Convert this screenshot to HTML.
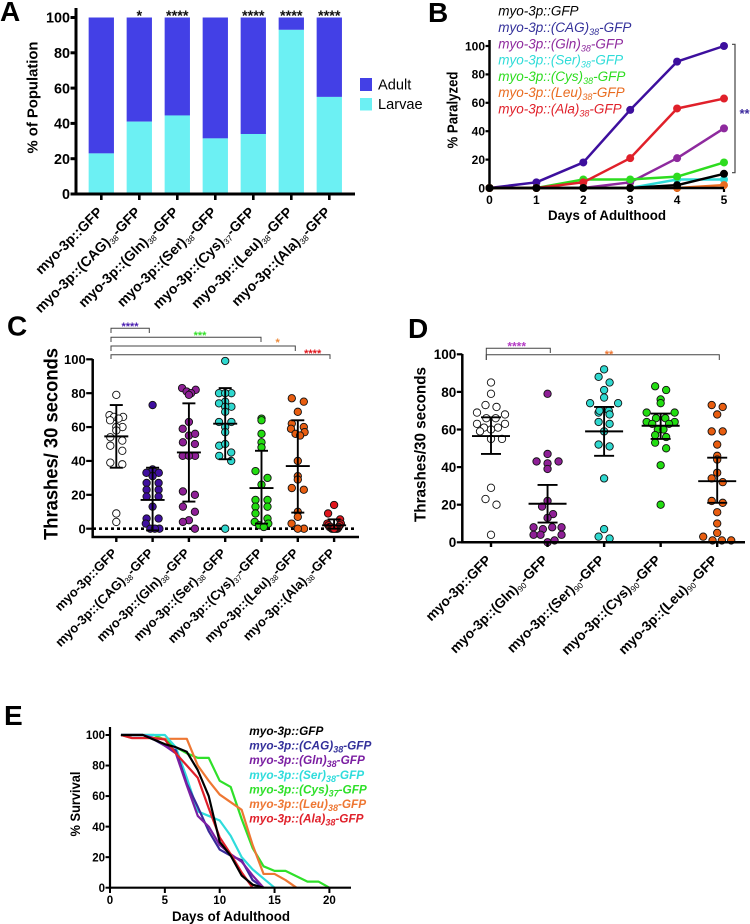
<!DOCTYPE html>
<html lang="en">
<head>
<meta charset="utf-8">
<title>Polyglutamine and polyalanine GFP phenotype panels</title>
<style>
html,body{margin:0;padding:0;background:#fff;}
svg{display:block;font-family:"Liberation Sans",Arial,sans-serif;filter:blur(0.35px);}
.letter{font-size:28px;font-weight:bold;fill:#000;}
.title{font-weight:bold;fill:#000;text-anchor:middle;}
</style>
</head>
<body>
<svg id="figure" xmlns="http://www.w3.org/2000/svg" width="750" height="924" viewBox="0 0 750 924">
  <rect x="0" y="0" width="750" height="924" fill="#fff"/>

  <g id="panel-a">
    <text class="letter" x="0" y="21">A</text>
    <text class="title" transform="translate(37.5 97.5) rotate(-90)" font-size="15" textLength="112" lengthAdjust="spacingAndGlyphs">% of Population</text>
    <rect x="360" y="78" width="12" height="13" fill="#4340e6"/>
    <text x="378" y="89.5" font-size="14.6">Adult</text>
    <rect x="360" y="98" width="12" height="12.5" fill="#6cf0f3"/>
    <text x="378" y="109" font-size="14.6">Larvae</text>
  </g>

  <g id="panel-b">
    <text class="letter" x="428" y="22">B</text>
    <text class="title" transform="translate(457.3 110) rotate(-90)" font-size="14.5" textLength="77" lengthAdjust="spacingAndGlyphs">% Paralyzed</text>
    <text class="title" x="607" y="220" font-size="14" textLength="118" lengthAdjust="spacingAndGlyphs">Days of Adulthood</text>
    <path d="M732 44.3H735V172.7H732" fill="none" stroke="#444" stroke-width="1.2"/>
    <text x="739.5" y="118" font-size="13" font-weight="bold" fill="#3d2a9e">**</text>
  </g>

  <g id="panel-c">
    <text class="letter" x="7" y="335.5">C</text>
    <text class="title" transform="translate(57.3 444) rotate(-90)" font-size="19" textLength="192" lengthAdjust="spacingAndGlyphs">Thrashes/ 30 seconds</text>
    <line x1="93" y1="528.7" x2="355" y2="528.7" stroke="#000" stroke-width="2.6" stroke-dasharray="3 3"/>
    <path d="M111 333V328.3H149.3V333" fill="none" stroke="#444" stroke-width="1"/>
    <path d="M111 342V337.3H261V342" fill="none" stroke="#444" stroke-width="1"/>
    <path d="M111 351V346H295.3V351" fill="none" stroke="#444" stroke-width="1"/>
    <path d="M111 359V354.7H330V359" fill="none" stroke="#444" stroke-width="1"/>
    <text x="130" y="330" font-size="11" font-weight="bold" fill="#4a1fb0" text-anchor="middle">****</text>
    <text x="200" y="339" font-size="11" font-weight="bold" fill="#35e02a" text-anchor="middle">***</text>
    <text x="277.7" y="346" font-size="11" font-weight="bold" fill="#ee8a3a" text-anchor="middle">*</text>
    <text x="312.7" y="357" font-size="11" font-weight="bold" fill="#e0161d" text-anchor="middle">****</text>
  </g>

  <g id="panel-d">
    <text class="letter" x="408" y="338">D</text>
    <text class="title" transform="translate(425.7 444.5) rotate(-90)" font-size="16" textLength="155" lengthAdjust="spacingAndGlyphs">Thrashes/30 seconds</text>
    <path d="M486.3 360V348.3H550.3V353" fill="none" stroke="#444" stroke-width="1"/>
    <path d="M486.3 360V354.7H719.3V360" fill="none" stroke="#444" stroke-width="1"/>
    <text x="516.7" y="350.5" font-size="12" font-weight="bold" fill="#b33bc4" text-anchor="middle">****</text>
    <text x="609" y="358" font-size="11" font-weight="bold" fill="#ee7733" text-anchor="middle">**</text>
  </g>

  <g id="panel-e">
    <text class="letter" x="4" y="725">E</text>
    <text class="title" transform="translate(80 804) rotate(-90)" font-size="13.5" textLength="65" lengthAdjust="spacingAndGlyphs">% Survival</text>
    <text class="title" x="231" y="921" font-size="13.9" textLength="118" lengthAdjust="spacingAndGlyphs">Days of Adulthood</text>
  </g>
</svg>

<script>
/* ---------- Panel A data ---------- */
const aCategories = [
  ['myo-3p::GFP'],
  ['myo-3p::(CAG)', '38', '-GFP'],
  ['myo-3p::(Gln)', '38', '-GFP'],
  ['myo-3p::(Ser)', '38', '-GFP'],
  ['myo-3p::(Cys)', '37', '-GFP'],
  ['myo-3p::(Leu)', '38', '-GFP'],
  ['myo-3p::(Ala)', '38', '-GFP']
];
const aLarvae = [23, 41, 44.5, 31.5, 34, 93, 55];
const aAdult = [77, 59, 55.5, 68.5, 66, 7, 45];
const aStars = ['', '*', '****', '', '****', '****', '****'];
const aTicks = [0, 20, 40, 60, 80, 100];

/* ---------- Panel B data ---------- */
const bDays = [0, 1, 2, 3, 4, 5];
const bTicksY = [0, 20, 40, 60, 80, 100];
const bCag = [0, 4, 18, 55, 89, 100];
const bGln = [0, 0, 0, 4, 21, 42];
const bSer = [0, 0, 0, 0, 6, 6];
const bCys = [0, 0, 6, 6, 8, 18];
const bAla = [0, 0, 4, 21, 56, 63];
const bLeu = [0, 0, 0, 0, 0, 2];
const bGfp = [0, 0, 0, 0, 2, 10];

/* ---------- Panel C data ---------- */
const cCategories = aCategories;
const cTicks = [0, 20, 40, 60, 80, 100];
const cGfp = [79, 67, 66, 66, 65, 64, 60, 60, 58, 54, 52, 49, 46, 39, 38, 9, 4];
const cCag = [73, 35, 33, 33, 31, 27, 27, 23, 23, 19, 19, 13, 6, 6, 3, 0, 0, 0];
const cGln = [83, 82, 81, 80, 79, 63, 59, 55, 56, 50, 51, 43, 43, 43, 20, 22, 13, 10, 5, 4, 0];
const cSer = [99, 80, 80, 80, 75, 74, 72, 72, 69, 63, 63, 60, 57, 49, 50, 45, 43, 40, 0];
const cCys = [65, 64, 56, 51, 48, 34, 30, 26, 17, 17, 13, 13, 9, 6, 4, 3, 2, 1];
const cLeu = [77, 75, 69, 62, 59, 60, 57, 56, 55, 40, 31, 29, 24, 23, 10, 7, 3, 0, 0];
const cAla = [14, 9, 5.5, 3, 3, 2, 2, 1, 1, 1, 0, 0, 0, 0, 0, 0];
const cMeans = [54.5, 17, 45, 62, 24, 37, 2];
const cUpper = [73, 36, 74, 83, 46, 64, 5.5];
const cLower = [36, -1, 16, 41, 3, 9.5, 0];

/* ---------- Panel D data ---------- */
const dCategories = [
  ['myo-3p::GFP'],
  ['myo-3p::(Gln)', '90', '-GFP'],
  ['myo-3p::(Ser)', '90', '-GFP'],
  ['myo-3p::(Cys)', '90', '-GFP'],
  ['myo-3p::(Leu)', '90', '-GFP']
];
const dTicks = [0, 20, 40, 60, 80, 100];
const dGfp = [85, 79, 73, 72, 69, 68, 66, 66, 63, 63, 61, 61, 60, 59, 55, 55, 29, 23, 20, 4];
const dGln = [79, 47, 43, 43, 42, 39, 22, 19, 15, 13, 8, 8, 8, 7, 4, 4, 4, 1, 0];
const dSer = [92, 88, 85, 81, 77, 74, 74, 70, 68, 69, 70, 63, 64, 59, 51, 52, 34, 7, 3, 2];
const dCys = [83, 81, 76, 74, 69, 69, 66, 66, 64, 64, 63, 63, 60, 60, 57, 56, 53, 50, 41, 20];
const dLeu = [73, 72, 68, 59, 59, 52, 46, 44, 37, 34, 32, 22, 21, 16, 10, 5, 3, 1, 1, 1];
const dMeans = [56.5, 20.5, 59, 62, 32.5];
const dUpper = [66.5, 30.5, 72, 68.5, 45];
const dLower = [47, 10.5, 46, 55, 21];

/* ---------- Panel E data ---------- */
const eTicksX = [0, 5, 10, 15, 20];
const eTicksY = [0, 20, 40, 60, 80, 100];
const eDays = [1, 2, 3, 4, 5, 6, 7, 8, 9, 10, 11, 12, 13, 14, 15, 16, 17, 18, 19, 20];
const eCys = [100, 100, 100, 100, 97, 92, 88, 85, 85, 70, 66, 45, 26, 14, 11, 11, 7.5, 4, 4, 0];
const eLeu = [100, 98, 98, 98, 97.5, 97.5, 97.5, 80, 70, 61, 56, 51, 28, 9, 9, 5, 0];
const eSer = [100, 100, 100, 100, 100, 92, 72, 50, 47, 44, 34, 20, 12, 6, 0];
const eCag = [100, 100, 100, 97, 93, 90, 68, 53, 37, 25, 21, 18, 5, 0];
const eGln = [100, 100, 100, 98, 93, 88, 67, 47, 40, 28, 22, 17, 8, 0];
const eAla = [100, 98, 98, 98, 97, 88, 80, 72, 52, 33, 22, 10, 0];
const eGfp = [100, 100, 100, 97, 94, 92, 89, 77, 60, 30, 21, 8, 2, 0];

/* ---------- Legend text ---------- */
const bLegend = [
  ['myo-3p::GFP'],
  ['myo-3p::(CAG)', '38', '-GFP'],
  ['myo-3p::(Gln)', '38', '-GFP'],
  ['myo-3p::(Ser)', '38', '-GFP'],
  ['myo-3p::(Cys)', '38', '-GFP'],
  ['myo-3p::(Leu)', '38', '-GFP'],
  ['myo-3p::(Ala)', '38', '-GFP']
];
const eLegend = [
  ['myo-3p::GFP'],
  ['myo-3p::(CAG)', '38', '-GFP'],
  ['myo-3p::(Gln)', '38', '-GFP'],
  ['myo-3p::(Ser)', '38', '-GFP'],
  ['myo-3p::(Cys)', '37', '-GFP'],
  ['myo-3p::(Leu)', '38', '-GFP'],
  ['myo-3p::(Ala)', '38', '-GFP']
];

/* ---------- Axis functions ---------- */
const yA = v => 194 - v * 1.765;
const xA = i => 101.3 + 38 * i;
const yB = v => 188 - v * 1.42;
const xB = d => 489.5 + d * 46.9;
const yC = v => 528.7 - v * 1.694;
const xC = i => 116.3 + 36.3 * i;
const yD = v => 542.3 - v * 1.88;
const xD = i => 491 + 56.55 * i;
const yE = v => 887.7 - v * 1.527;
const xE = d => 110 + 10.97 * d;

const NS = 'http://www.w3.org/2000/svg';
function mk(tag, attrs, parent) {
  const el = document.createElementNS(NS, tag);
  for (const k in attrs) el.setAttribute(k, attrs[k]);
  parent.appendChild(el);
  return el;
}
function rule(parent, name, x1, y1, x2, y2, w, color) {
  const l = mk('line', {x1: x1, y1: y1, x2: x2, y2: y2, stroke: color || '#000', 'stroke-width': w}, parent);
  
  
  return l;
}
function tickText(parent, name, str, x, y, size, anchor) {
  const t = mk('text', {x: x, y: y, 'font-size': size, 'font-weight': 'bold', 'text-anchor': anchor}, parent);
  
  
  t.textContent = str;
  return t;
}
function yTicks(parent, panel, ticks, scale, axisX, len, size, w) {
  ticks.forEach(v => {
    rule(parent, panel + '-y-tick-' + v, axisX - len, scale(v), axisX, scale(v), w);
    tickText(parent, panel + '-y-label-' + v, v, axisX - len - 0.5, scale(v) + size * 0.36, size, 'end');
  });
}
function richText(parent, name, parts, attrs, subSize, subDrop, color, subWeight) {
  const t = mk('text', attrs, parent);
  
  
  if (color) t.setAttribute('fill', color);
  const main = mk('tspan', {}, t);
  
  
  main.textContent = parts[0];
  if (parts.length > 1) {
    const sub = mk('tspan', {dy: subDrop, 'font-size': subSize}, t);
    if (subWeight) sub.setAttribute('font-weight', subWeight);
    
    
    sub.textContent = parts[1];
    const tail = mk('tspan', {dy: -subDrop}, t);
    
    
    tail.textContent = parts[2];
  }
  return t;
}
function categoryLabels(parent, panel, cats, scale, dx, y, size) {
  cats.forEach((parts, i) => {
    const x = scale(i) + dx;
    const attrs = {
      x: x, y: y, 'font-size': size, 'font-weight': 'bold', 'text-anchor': 'end',
      transform: 'rotate(-45 ' + x + ' ' + y + ')'
    };
    richText(parent, panel + '-category-label-' + i, parts, attrs, size * 0.6, 2.5, null, 'normal');
  });
}
/* Binned swarm layout: points sharing a value bin are spread symmetrically,
   with the largest values placed on the outside of the row. */
function swarm(values, binSize, pair, triple, maxHalf) {
  const bins = {};
  values.forEach((v, i) => {
    const b = Math.floor(v / binSize);
    (bins[b] = bins[b] || []).push(i);
  });
  const offsets = new Array(values.length).fill(0);
  Object.keys(bins).forEach(b => {
    const items = bins[b].slice().sort((p, q) => values[q] - values[p]);
    const n = items.length;
    let slots = [0];
    if (n === 2) slots = [-pair / 2, pair / 2];
    if (n === 3) slots = [-triple, triple, 0];
    if (n >= 4) {
      const sp = 2 * maxHalf / (n - 1);
      slots = items.map((_, j) => -maxHalf + j * sp);
      slots.sort((p, q) => (Math.abs(q) - Math.abs(p)) || (p - q));
    }
    items.forEach((idx, j) => { offsets[idx] = slots[j]; });
  });
  return offsets;
}
function scatterGroup(parent, panel, groupName, vals, cx, yScale, color, r, layout) {
  const g = mk('g', {}, parent);
  
  
  const off = swarm(vals, layout.bin, layout.pair, layout.triple, layout.maxHalf);
  vals.forEach((v, i) => {
    const c = mk('circle', {cx: cx + off[i], cy: yScale(v), r: r, fill: color, stroke: '#111', 'stroke-width': 0.9}, g);
    
    
  });
}
function errorBars(parent, panel, means, upper, lower, xScale, yScale, meanHalf, capHalf, w) {
  means.forEach((m, i) => {
    const x = xScale(i);
    rule(parent, panel + '-error-stem-' + i, x, yScale(upper[i]), x, yScale(lower[i]), w);
    rule(parent, panel + '-mean-bar-' + i, x - meanHalf, yScale(m), x + meanHalf, yScale(m), w);
    rule(parent, panel + '-cap-upper-' + i, x - capHalf, yScale(upper[i]), x + capHalf, yScale(upper[i]), w);
    rule(parent, panel + '-cap-lower-' + i, x - capHalf, yScale(lower[i]), x + capHalf, yScale(lower[i]), w);
  });
}

/* ---------- Panel A ---------- */
const panelA = document.getElementById('panel-a');
aLarvae.forEach((v, i) => {
  const w = 25.3;
  const adult = mk('rect', {x: xA(i) - w / 2, y: yA(v + aAdult[i]), width: w, height: yA(v) - yA(v + aAdult[i]), fill: '#4340e6'}, panelA);
  
  
  const larvae = mk('rect', {x: xA(i) - w / 2, y: yA(v), width: w, height: yA(0) - yA(v), fill: '#6cf0f3'}, panelA);
  
  
  if (aStars[i]) {
    const s = tickText(panelA, 'significance-stars-a-' + i, aStars[i], xA(i), 20.7, 14.5, 'middle');
    s.setAttribute('fill', '#111');
  }
  rule(panelA, 'a-x-tick-' + i, xA(i), 194, xA(i), 200, 2.6);
});
rule(panelA, 'a-y-axis', 76, 8, 76, 195.5, 3);
rule(panelA, 'a-x-axis', 74.5, 194, 355, 194, 3);
yTicks(panelA, 'a', aTicks, yA, 76, 5.5, 14.4, 3);
categoryLabels(panelA, 'a', aCategories, xA, 2, 213, 14);

/* ---------- Panel B ---------- */
const panelB = document.getElementById('panel-b');
const seriesColors = {gfp: '#000', cag: '#3d0f9e', gln: '#8e2a9e', ser: '#2fdcd8', cys: '#2ddc1f', leu: '#e96b1f', ala: '#e0202a'};
const legendColorsB = ['#000', '#33309a', '#8e2a9e', '#2fdcd8', '#2ddc1f', '#e96b1f', '#e0202a'];
bLegend.forEach((parts, i) => {
  richText(panelB, 'b-legend-entry-' + i, parts, {x: 498.3, y: 15.7 + i * 16.3, 'font-size': 13.5, 'font-style': 'italic'}, 9, 3, legendColorsB[i]);
});
rule(panelB, 'b-y-axis', 489.5, 40, 489.5, 189, 2.5);
yTicks(panelB, 'b', bTicksY, yB, 489.5, 4, 12, 2.2);
bDays.forEach(d => {
  rule(panelB, 'b-x-tick-' + d, xB(d), 188, xB(d), 192, 2.2);
  tickText(panelB, 'b-x-label-' + d, d, xB(d), 204, 12, 'middle');
});
function drawB(name, series, color) {
  const g = mk('g', {}, panelB);
  
  
  const line = mk('polyline', {
    points: series.map((v, i) => xB(bDays[i]) + ',' + yB(v)).join(' '),
    fill: 'none', stroke: color, 'stroke-width': 2.5, 'stroke-linejoin': 'round'
  }, g);
  
  
  series.forEach((v, i) => {
    const c = mk('circle', {cx: xB(bDays[i]), cy: yB(v), r: 4, fill: color}, g);
    
    
  });
}
drawB('cag', bCag, seriesColors.cag);
drawB('gln', bGln, seriesColors.gln);
drawB('ser', bSer, seriesColors.ser);
drawB('cys', bCys, seriesColors.cys);
drawB('ala', bAla, seriesColors.ala);
drawB('leu', bLeu, seriesColors.leu);
drawB('gfp', bGfp, seriesColors.gfp);
rule(panelB, 'b-x-axis', 488, 188, 724, 188, 2.5);

/* ---------- Panel C ---------- */
const panelC = document.getElementById('panel-c');
const cLayout = {bin: 5, pair: 12, triple: 6.2, maxHalf: 6.8};
const cGroups = [
  ['gfp', cGfp, '#fff'], ['cag', cCag, '#3f0f9f'], ['gln', cGln, '#8e1f96'], ['ser', cSer, '#2fd8cf'],
  ['cys', cCys, '#22dd11'], ['leu', cLeu, '#e85d10'], ['ala', cAla, '#e0161d']
];
cGroups.forEach((g, i) => {
  scatterGroup(panelC, 'c', g[0], g[1], xC(i), yC, g[2], 3.7, cLayout);
  rule(panelC, 'c-x-tick-' + i, xC(i), 537, xC(i), 542, 2.4);
});
errorBars(panelC, 'c', cMeans, cUpper, cLower, xC, yC, 12, 6.5, 1.9);
rule(panelC, 'c-y-axis', 92.7, 359, 92.7, 538, 2.5);
rule(panelC, 'c-x-axis', 91.5, 537, 359, 537, 2.5);
yTicks(panelC, 'c', cTicks, yC, 92.7, 6.5, 13, 2.2);
categoryLabels(panelC, 'c', cCategories, xC, 1.5, 554, 13);

/* ---------- Panel D ---------- */
const panelD = document.getElementById('panel-d');
const dLayout = {bin: 5, pair: 11, triple: 11, maxHalf: 14};
const dGroups = [
  ['gfp', dGfp, '#fff'], ['gln', dGln, '#8e1f96'], ['ser', dSer, '#2fd8cf'], ['cys', dCys, '#22dd11'], ['leu', dLeu, '#e85d10']
];
dGroups.forEach((g, i) => {
  scatterGroup(panelD, 'd', g[0], g[1], xD(i), yD, g[2], 3.7, dLayout);
  rule(panelD, 'd-x-tick-' + i, xD(i), 542.3, xD(i), 547, 2.4);
});
errorBars(panelD, 'd', dMeans, dUpper, dLower, xD, yD, 19, 10, 1.9);
rule(panelD, 'd-y-axis', 462.3, 354, 462.3, 543.5, 2.5);
rule(panelD, 'd-x-axis', 461, 542.3, 745, 542.3, 2.5);
yTicks(panelD, 'd', dTicks, yD, 462.3, 5.5, 13.5, 2.2);
categoryLabels(panelD, 'd', dCategories, xD, 1, 561, 13.7);

/* ---------- Panel E ---------- */
const panelE = document.getElementById('panel-e');
function drawE(name, series, color) {
  const line = mk('polyline', {
    points: series.map((v, i) => xE(eDays[i]) + ',' + yE(v)).join(' '),
    fill: 'none', stroke: color, 'stroke-width': 2.2, 'stroke-linejoin': 'round'
  }, panelE);
  
  
}
drawE('cys', eCys, '#2fe02a');
drawE('leu', eLeu, '#ee7733');
drawE('ser', eSer, '#2fdcdc');
drawE('cag', eCag, '#3a2a9a');
drawE('gln', eGln, '#7b1fa2');
drawE('ala', eAla, '#e0202a');
drawE('gfp', eGfp, '#000');
rule(panelE, 'e-y-axis', 110, 727, 110, 889, 2.2);
rule(panelE, 'e-x-axis', 109, 887.7, 351, 887.7, 2.2);
yTicks(panelE, 'e', eTicksY, yE, 110, 4.5, 11.5, 2);
eTicksX.forEach(d => {
  rule(panelE, 'e-x-tick-' + d, xE(d), 887.7, xE(d), 893, 2);
  tickText(panelE, 'e-x-label-' + d, d, xE(d), 904, 11.5, 'middle');
});
const legendColorsE = ['#000', '#33309a', '#7b1fa2', '#2fdcdc', '#2fe02a', '#ee7733', '#e0202a'];
eLegend.forEach((parts, i) => {
  richText(panelE, 'e-legend-entry-' + i, parts, {x: 249.3, y: 735 + i * 14.6, 'font-size': 11.8, 'font-style': 'italic', 'font-weight': 'bold'}, 9, 3, legendColorsE[i]);
});
</script>
</body>
</html>
